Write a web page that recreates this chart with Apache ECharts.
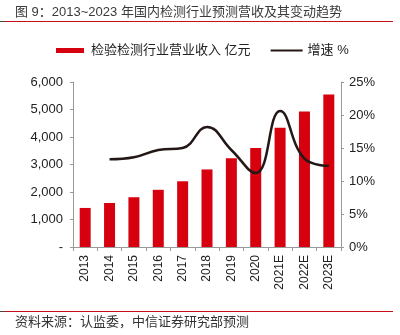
<!DOCTYPE html>
<html><head><meta charset="utf-8">
<script src="https://cdn.jsdelivr.net/npm/echarts@6/dist/echarts.min.js"></script>
<style>html,body{margin:0;padding:0;background:#fff}#c{width:400px;height:335px}</style>
</head><body><div id="c"></div>
<script>
const categories = ['2013','2014','2015','2016','2017','2018','2019','2020','2021E','2022E','2023E'];
const revenue = [1420, 1600, 1810, 2080, 2390, 2820, 3230, 3600, 4340, 4930, 5550];
const growth = [null, 13.3, 13.6, 14.7, 15.0, 18.2, 14.7, 11.2, 20.6, 13.4, 12.3];
const leftTicks = {min: 0, max: 6000, interval: 1000};
const rightTicks = {min: 0, max: 25, interval: 5};
const titleText = '图 9：2013~2023 年国内检测行业预测营收及其变动趋势';
const sourceText = '资料来源：认监委，中信证券研究部预测';
const barName = '检验检测行业营业收入 亿元';
const lineName = '增速 %';

const font = '"Liberation Sans", Arial, "Noto Sans CJK SC", sans-serif';
const chart = echarts.init(document.getElementById('c'), null, {renderer: 'canvas'});
chart.setOption({
  animation: false,
  textStyle: {fontFamily: font},
  graphic: [
    {type: 'text', left: 15, top: 6, style: {text: titleText, font: '13px ' + font, fill: '#3a3a3a'}},
    {type: 'line', shape: {x1: 0, y1: 21.5, x2: 393, y2: 21.5}, style: {stroke: '#c8101a', lineWidth: 1}},
    {type: 'line', shape: {x1: 0, y1: 21.5, x2: 5, y2: 21.5}, style: {stroke: '#444', lineWidth: 1}},
    {type: 'line', shape: {x1: 0, y1: 311.5, x2: 393, y2: 311.5}, style: {stroke: '#c8101a', lineWidth: 1}},
    {type: 'line', shape: {x1: 0, y1: 311.5, x2: 5, y2: 311.5}, style: {stroke: '#444', lineWidth: 1}},
    {type: 'text', left: 15, top: 316, style: {text: sourceText, font: '13px ' + font, fill: '#333'}}
  ],
  legend: {
    left: 56, top: 44, padding: 0, itemGap: 20, itemWidth: 32, itemHeight: 5,
    textStyle: {fontSize: 13, color: '#222', fontFamily: font},
    data: [{name: barName, icon: 'path://M0,0H28V5H0Z'},
           {name: lineName, icon: 'path://M0,0H32V2H0Z', itemStyle: {color: '#231815'}}]
  },
  grid: {left: 73, right: 59, top: 82, bottom: 88},
  xAxis: {
    type: 'category', data: categories,
    axisLine: {lineStyle: {color: '#999'}},
    axisTick: {show: true, length: 4, alignWithLabel: false, lineStyle: {color: '#999'}},
    axisLabel: {rotate: 90, color: '#222', fontSize: 12, margin: 8, interval: 0}
  },
  yAxis: [
    {type: 'value', min: leftTicks.min, max: leftTicks.max, interval: leftTicks.interval,
     splitLine: {show: false},
     axisLine: {show: true, lineStyle: {color: '#999'}},
     axisTick: {show: true, length: 3, lineStyle: {color: '#999'}},
     axisLabel: {color: '#222', fontSize: 13, margin: 10,
       formatter: v => v === 0 ? '-' : v.toLocaleString('en-US')}},
    {type: 'value', min: rightTicks.min, max: rightTicks.max, interval: rightTicks.interval,
     splitLine: {show: false},
     axisLine: {show: true, lineStyle: {color: '#999'}},
     axisTick: {show: true, length: 3, lineStyle: {color: '#999'}},
     axisLabel: {color: '#222', fontSize: 13, margin: 8, formatter: '{value}%'}}
  ],
  series: [
    {name: barName, type: 'bar', data: revenue, barWidth: 11, itemStyle: {color: '#d7000f'}},
    {name: lineName, type: 'line', yAxisIndex: 1, data: growth, smooth: 0.45, symbol: 'none',
     lineStyle: {color: '#231815', width: 2.5}, itemStyle: {color: '#231815'}}
  ]
});
</script></body></html>
